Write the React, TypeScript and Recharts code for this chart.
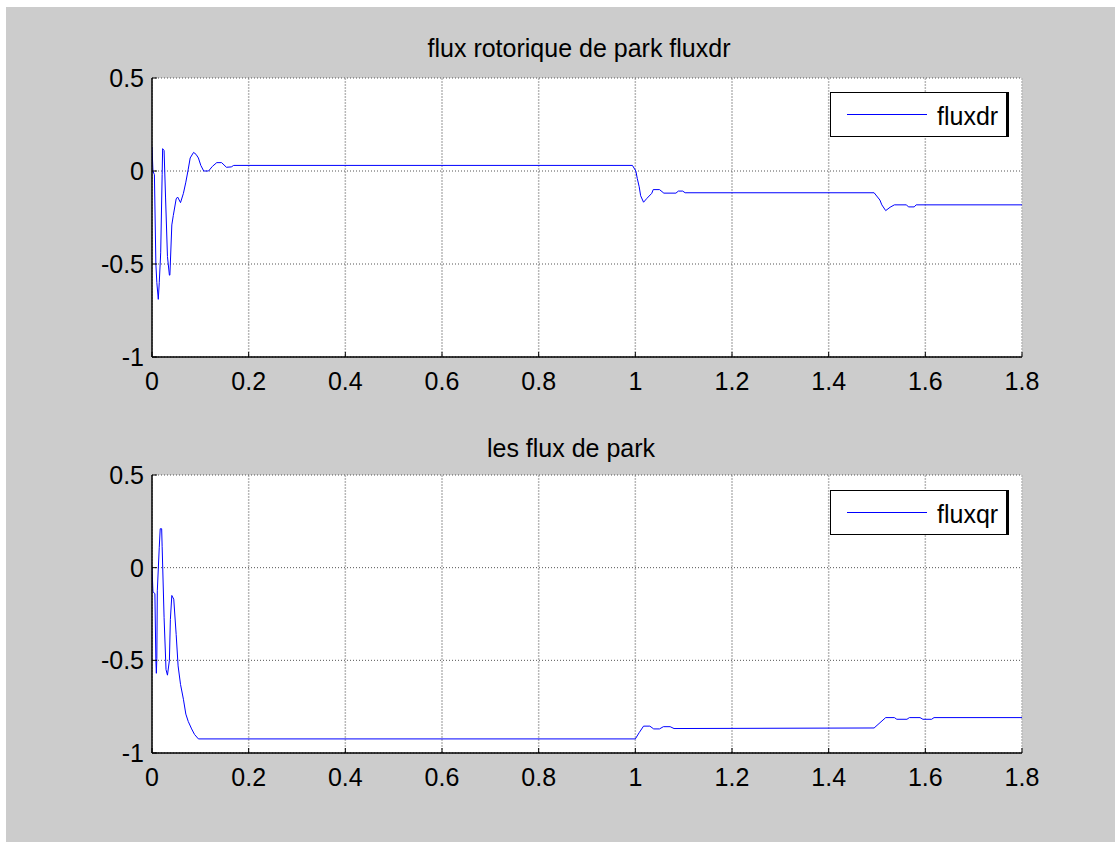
import React from "react";
import { CartesianGrid, Legend, Line, LineChart, XAxis, YAxis } from "recharts";

const xTicks = [0, 0.2, 0.4, 0.6, 0.8, 1, 1.2, 1.4, 1.6, 1.8];
const yTicks = [-1, -0.5, 0, 0.5];

// top subplot: fluxdr
const fluxdrTime = [
  0, 0.002, 0.005, 0.008, 0.01, 0.013, 0.015, 0.018, 0.021, 0.022, 0.025, 0.028,
  0.032, 0.036, 0.037, 0.041, 0.044, 0.05, 0.053, 0.059, 0.065, 0.07, 0.075, 0.079,
  0.086, 0.091, 0.096, 0.101, 0.107, 0.117, 0.125, 0.134, 0.144, 0.154, 0.164, 0.169,
  0.994, 1.001, 1.004, 1.008, 1.011, 1.017, 1.024, 1.034, 1.037, 1.05, 1.059, 1.084,
  1.089, 1.098, 1.103, 1.494, 1.506, 1.51, 1.518, 1.527, 1.536, 1.561, 1.565, 1.577,
  1.581, 1.8,
];
const fluxdrValues = [
  0.13, 0, -0.02, -0.5, -0.6, -0.69, -0.6, -0.44, -0.02, 0.12, 0.11, -0.14,
  -0.46, -0.56, -0.56, -0.29, -0.24, -0.15, -0.14, -0.17, -0.12, -0.06, 0.01, 0.07,
  0.1, 0.09, 0.07, 0.03, 0, 0, 0.025, 0.045, 0.045, 0.02, 0.022, 0.03,
  0.03, 0, -0.04, -0.085, -0.133, -0.168, -0.147, -0.12, -0.1, -0.1, -0.119, -0.119,
  -0.108, -0.108, -0.117, -0.117, -0.156, -0.182, -0.213, -0.195, -0.182, -0.182, -0.193, -0.193,
  -0.182, -0.182,
];

// bottom subplot: fluxqr
const fluxqrTime = [
  0, 0.002, 0.006, 0.008, 0.009, 0.01, 0.011, 0.015, 0.017, 0.02, 0.021, 0.025,
  0.029, 0.032, 0.036, 0.038, 0.041, 0.045, 0.05, 0.054, 0.059, 0.065, 0.07, 0.075,
  0.082, 0.088, 0.096, 1.0, 1.008, 1.017, 1.03, 1.038, 1.05, 1.058, 1.072, 1.08,
  1.494, 1.518, 1.536, 1.541, 1.562, 1.567, 1.589, 1.595, 1.613, 1.618, 1.8,
];
const fluxqrValues = [
  0, -0.13, -0.14, -0.5, -0.57, -0.49, -0.125, 0.11, 0.21, 0.21, 0.113, -0.27,
  -0.55, -0.58, -0.5, -0.28, -0.15, -0.17, -0.36, -0.53, -0.63, -0.71, -0.79, -0.83,
  -0.87, -0.9, -0.924, -0.924, -0.89, -0.855, -0.855, -0.87, -0.87, -0.858, -0.858, -0.868,
  -0.865, -0.809, -0.809, -0.818, -0.818, -0.809, -0.809, -0.818, -0.818, -0.809, -0.809,
];

const FONT = "'Liberation Sans', Arial, Helvetica, sans-serif";
const FS = 25;

const zip = (t: number[], v: number[]) => t.map((x, i) => ({ t: x, v: v[i] }));

function BottomTick(props: any) {
  const { x, y, payload } = props;
  return (
    <g>
      <line x1={x} y1={y} x2={x} y2={y - 5} stroke="#000" />
      <text x={x} y={y + 33} textAnchor="middle" fontSize={FS} fontFamily={FONT} fill="#000">
        {String(payload.value)}
      </text>
    </g>
  );
}

function TopTick(props: any) {
  const { x, y } = props;
  return <line x1={x} y1={y} x2={x} y2={y + 5} stroke="#000" />;
}

function LeftTick(props: any) {
  const { x, y, payload } = props;
  return (
    <g>
      <line x1={x} y1={y} x2={x + 5} y2={y} stroke="#000" />
      <text x={x - 8} y={y + 9} textAnchor="end" fontSize={FS} fontFamily={FONT} fill="#000">
        {String(payload.value)}
      </text>
    </g>
  );
}

function RightTick(props: any) {
  const { x, y } = props;
  return <line x1={x} y1={y} x2={x - 5} y2={y} stroke="#000" />;
}

function LegendBox(props: any) {
  const item = props.payload && props.payload[0];
  return (
    <div
      style={{
        width: 179,
        height: 45,
        boxSizing: "border-box",
        border: "1px solid #000",
        borderRightWidth: 3,
        background: "#fff",
        position: "relative",
        fontFamily: FONT,
      }}
    >
      <div style={{ position: "absolute", left: 16, top: 21, width: 80, height: 1, background: item ? item.color : "#00f" }} />
      <span style={{ position: "absolute", left: 106, top: 11, fontSize: FS, lineHeight: "25px", color: "#000" }}>
        {item ? item.value : ""}
      </span>
    </div>
  );
}

type SubplotProps = {
  data: { t: number; v: number }[];
  name: string;
  height: number;
  top: number;
  bottom: number;
  legendTop: number;
};

function Subplot({ data, name, height, top, bottom, legendTop }: SubplotProps) {
  return (
    <LineChart
      width={1109}
      height={height}
      data={data}
      margin={{ top, right: 93, bottom, left: 0 }}
    >
      <CartesianGrid
        horizontal={false}
        fill="#fff"
        fillOpacity={1}
        stroke="#b8b8b8"
        strokeWidth={1.5}
        strokeDasharray="2 1"
      />
      <CartesianGrid vertical={false} stroke="#555" strokeDasharray="1 2" />
      <XAxis
        dataKey="t"
        type="number"
        domain={[0, 1.8]}
        ticks={xTicks}
        allowDataOverflow
        height={30}
        tickSize={0}
        tickMargin={0}
        tickLine={false}
        axisLine={{ stroke: "#000", strokeWidth: 1.5 }}
        tick={<BottomTick />}
        interval={0}
      />
      <XAxis
        xAxisId="top"
        orientation="top"
        type="number"
        domain={[0, 1.8]}
        ticks={xTicks}
        height={0}
        tickSize={0}
        tickMargin={0}
        tickLine={false}
        axisLine={{ stroke: "#000", strokeWidth: 1.5 }}
        tick={<TopTick />}
        interval={0}
      />
      <YAxis
        type="number"
        domain={[-1, 0.5]}
        ticks={yTicks}
        allowDataOverflow
        width={146}
        tickSize={0}
        tickMargin={0}
        tickLine={false}
        axisLine={{ stroke: "#000", strokeWidth: 1.5 }}
        tick={<LeftTick />}
        interval={0}
      />
      <YAxis
        yAxisId="right"
        orientation="right"
        type="number"
        domain={[-1, 0.5]}
        ticks={yTicks}
        width={0}
        tickSize={0}
        tickMargin={0}
        tickLine={false}
        axisLine={{ stroke: "#000", strokeWidth: 1.5 }}
        tick={<RightTick />}
        interval={0}
      />
      <Legend
        layout="horizontal"
        verticalAlign="middle"
        align="center"
        content={<LegendBox />}
        wrapperStyle={{ position: "absolute", left: 824, top: legendTop, width: 179, height: 45 }}
      />
      <Line
        dataKey="v"
        name={name}
        type="linear"
        stroke="#0000ff"
        strokeWidth={1}
        dot={false}
        activeDot={false}
        isAnimationActive={false}
      />
    </LineChart>
  );
}

function Title({ text, cx, top }: { text: string; cx: number; top: number }) {
  return (
    <div
      style={{
        position: "absolute",
        left: cx - 300,
        top,
        width: 600,
        textAlign: "center",
        fontFamily: FONT,
        fontSize: FS,
        lineHeight: "25px",
        color: "#000",
      }}
    >
      {text}
    </div>
  );
}

export default function App() {
  return (
    <div
      style={{
        position: "absolute",
        left: 6,
        top: 7,
        width: 1109,
        height: 835,
        background: "#cccccc",
        overflow: "hidden",
      }}
    >
      <div style={{ position: "absolute", left: 0, top: 0 }}>
        <Subplot data={zip(fluxdrTime, fluxdrValues)} name="fluxdr" height={400} top={71} bottom={20} legendTop={85} />
      </div>
      <div style={{ position: "absolute", left: 0, top: 400 }}>
        <Subplot data={zip(fluxqrTime, fluxqrValues)} name="fluxqr" height={435} top={68} bottom={59} legendTop={83} />
      </div>
      <Title text="flux rotorique de park fluxdr" cx={573} top={29} />
      <Title text="les flux de park" cx={565} top={429} />
    </div>
  );
}
